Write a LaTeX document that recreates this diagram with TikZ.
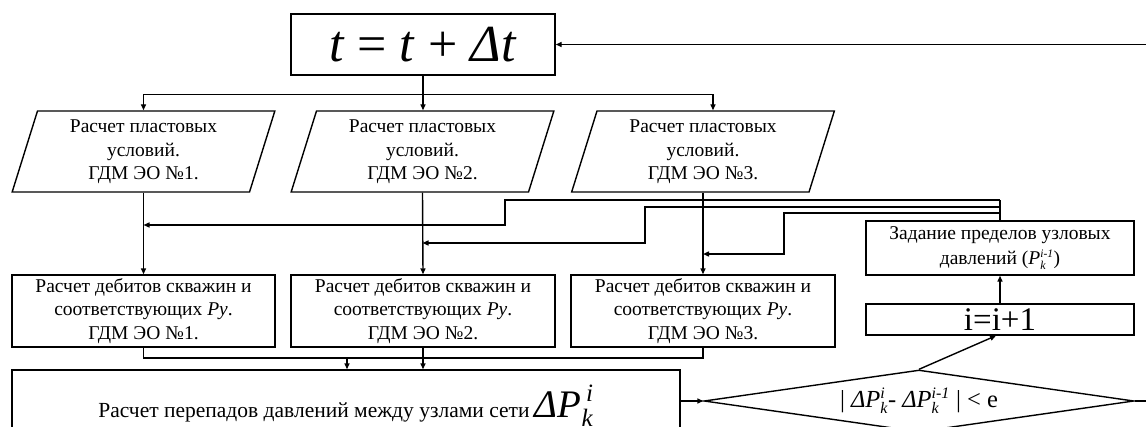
\RequirePackage{fix-cm}
\documentclass[tikz,border=0pt]{standalone}
\usepackage{amsmath}
\usepackage{fontspec}
\setmainfont{Liberation Serif}
\usetikzlibrary{arrows.meta,shapes.geometric,calc}
\newcommand\scr[2]{\mbox{\fontsize{#1}{#1}\selectfont\itshape #2}}
\newcommand\lines[1]{\begin{tabular}{@{}c@{}}#1\end{tabular}}
\begin{document}
\begin{tikzpicture}[x=1pt,y=-1pt,line width=1.4pt,
  box/.style={draw,rectangle,inner sep=0pt,align=center,font=\fontsize{19.5}{23.5}\selectfont},
  para/.style={draw,trapezium,trapezium left angle=76,trapezium right angle=104,
    trapezium stretches=true,minimum width=263pt,minimum height=81pt,inner sep=0pt,
    align=center,font=\fontsize{19.5}{23.5}\selectfont},
  arr/.style={-{Triangle[length=6pt,width=5pt]}}]
\clip (0,0) rectangle (1146,426);
\fill[white] (0,0) rectangle (1146,426);
% nodes
\node[box,minimum width=264pt,minimum height=61pt,font=\fontsize{52}{52}\selectfont] (top) at (423,44.5) {\raisebox{-2pt}{\textit{t} = \textit{t} + \textit{Δt}}};
\node[para] (p1) at (143.5,151.5) {\raisebox{-2pt}{\lines{Расчет пластовых\\условий.\\ГДМ ЭО №1.}}};
\node[para] (p2) at (422.5,151.5) {\raisebox{-2pt}{\lines{Расчет пластовых\\условий.\\ГДМ ЭО №2.}}};
\node[para] (p3) at (703,151.5) {\raisebox{-2pt}{\lines{Расчет пластовых\\условий.\\ГДМ ЭО №3.}}};
\node[box,minimum width=263pt,minimum height=72pt] (r1) at (143.5,311) {Расчет дебитов скважин и\\соответствующих \textit{Py}.\\ГДМ ЭО №1.};
\node[box,minimum width=264pt,minimum height=72pt] (r2) at (423,311) {Расчет дебитов скважин и\\соответствующих \textit{Py}.\\ГДМ ЭО №2.};
\node[box,minimum width=264pt,minimum height=72pt] (r3) at (703,311) {Расчет дебитов скважин и\\соответствующих \textit{Py}.\\ГДМ ЭО №3.};
\node[box,minimum width=668pt,minimum height=72pt,font=\fontsize{21.5}{25}\selectfont] (calc) at (346,406) {\raisebox{5pt}{Расчет перепадов давлений между узлами сети {\fontsize{39}{39}\selectfont$\textit{ΔP}^{\,\scr{25}{i}}_{\scr{25}{k}}$}}};
\node[box,minimum width=268pt,minimum height=54pt] (zad) at (1000,248) {Задание пределов узловых\\[2pt]давлений (\textit{P}$^{\scr{11.5}{i-1}}_{\scr{12}{k}}$)};
\node[box,minimum width=268pt,minimum height=31pt,font=\fontsize{33}{33}\selectfont] (inc) at (1000,319.5) {i=i+1};
\node[draw,diamond,aspect=6.9,minimum width=430pt,minimum height=62pt,inner sep=0pt,font=\fontsize{24.5}{26}\selectfont] (dia) at (919,401) {| \textit{ΔP}$^{\scr{16}{i}}_{\scr{16}{k}}$- \textit{ΔP}$^{\scr{16}{i-1}}_{\scr{16}{k}}$ | < e};
% free ends
\coordinate (in) at (1146,44.5);
\coordinate (out) at (1146,401);
\coordinate (fbtop) at (1000,200);
% connectors
\draw[arr] (in) -- (top.east);
\draw (top.south) -- ++(0,18.5) coordinate (split);
\draw[arr] (split) -| (p1.center |- p1.north);
\draw[arr] (split) -- (split |- p2.north);
\coordinate (p3in) at ($(p3.center |- p3.north)+(10,0)$);
\draw[arr] (split) -| (p3in);
\draw[arr] (p1.center |- p1.south) -- (r1.north);
\draw[arr] (p2.center |- p2.south) -- (r2.north);
\draw[arr] (p3.center |- p3.south) -- (r3.north);
\draw (zad.north) -- (fbtop);
\draw[arr] (fbtop) -- (505,200) -- (505,225) -- (p1.center |- 0,225);
\draw[arr] (1000,207) -- (645,207) -- (645,243) -- (p2.center |- 0,243);
\draw[arr] (1000,213) -- (784,213) -- (784,254) -- (p3.center |- 0,254);
\draw (r1.south) -- (r1.south |- 0,358) -- (r3.south |- 0,358) -- (r3.south);
\draw (r2.south) -- (r2.south |- 0,358);
\draw[arr] (347,358) -- (347,0 |- calc.north);
\draw[arr] (r2.south |- 0,358) -- (r2.south |- calc.north);
\draw[arr] (calc.east |- dia.west) -- (dia.west);
\draw[arr] (dia.north) -- ([xshift=-4pt]inc.south);
\draw[arr] (inc.north) -- (zad.south);
\draw (dia.east) -- (out);
\end{tikzpicture}
\end{document}
